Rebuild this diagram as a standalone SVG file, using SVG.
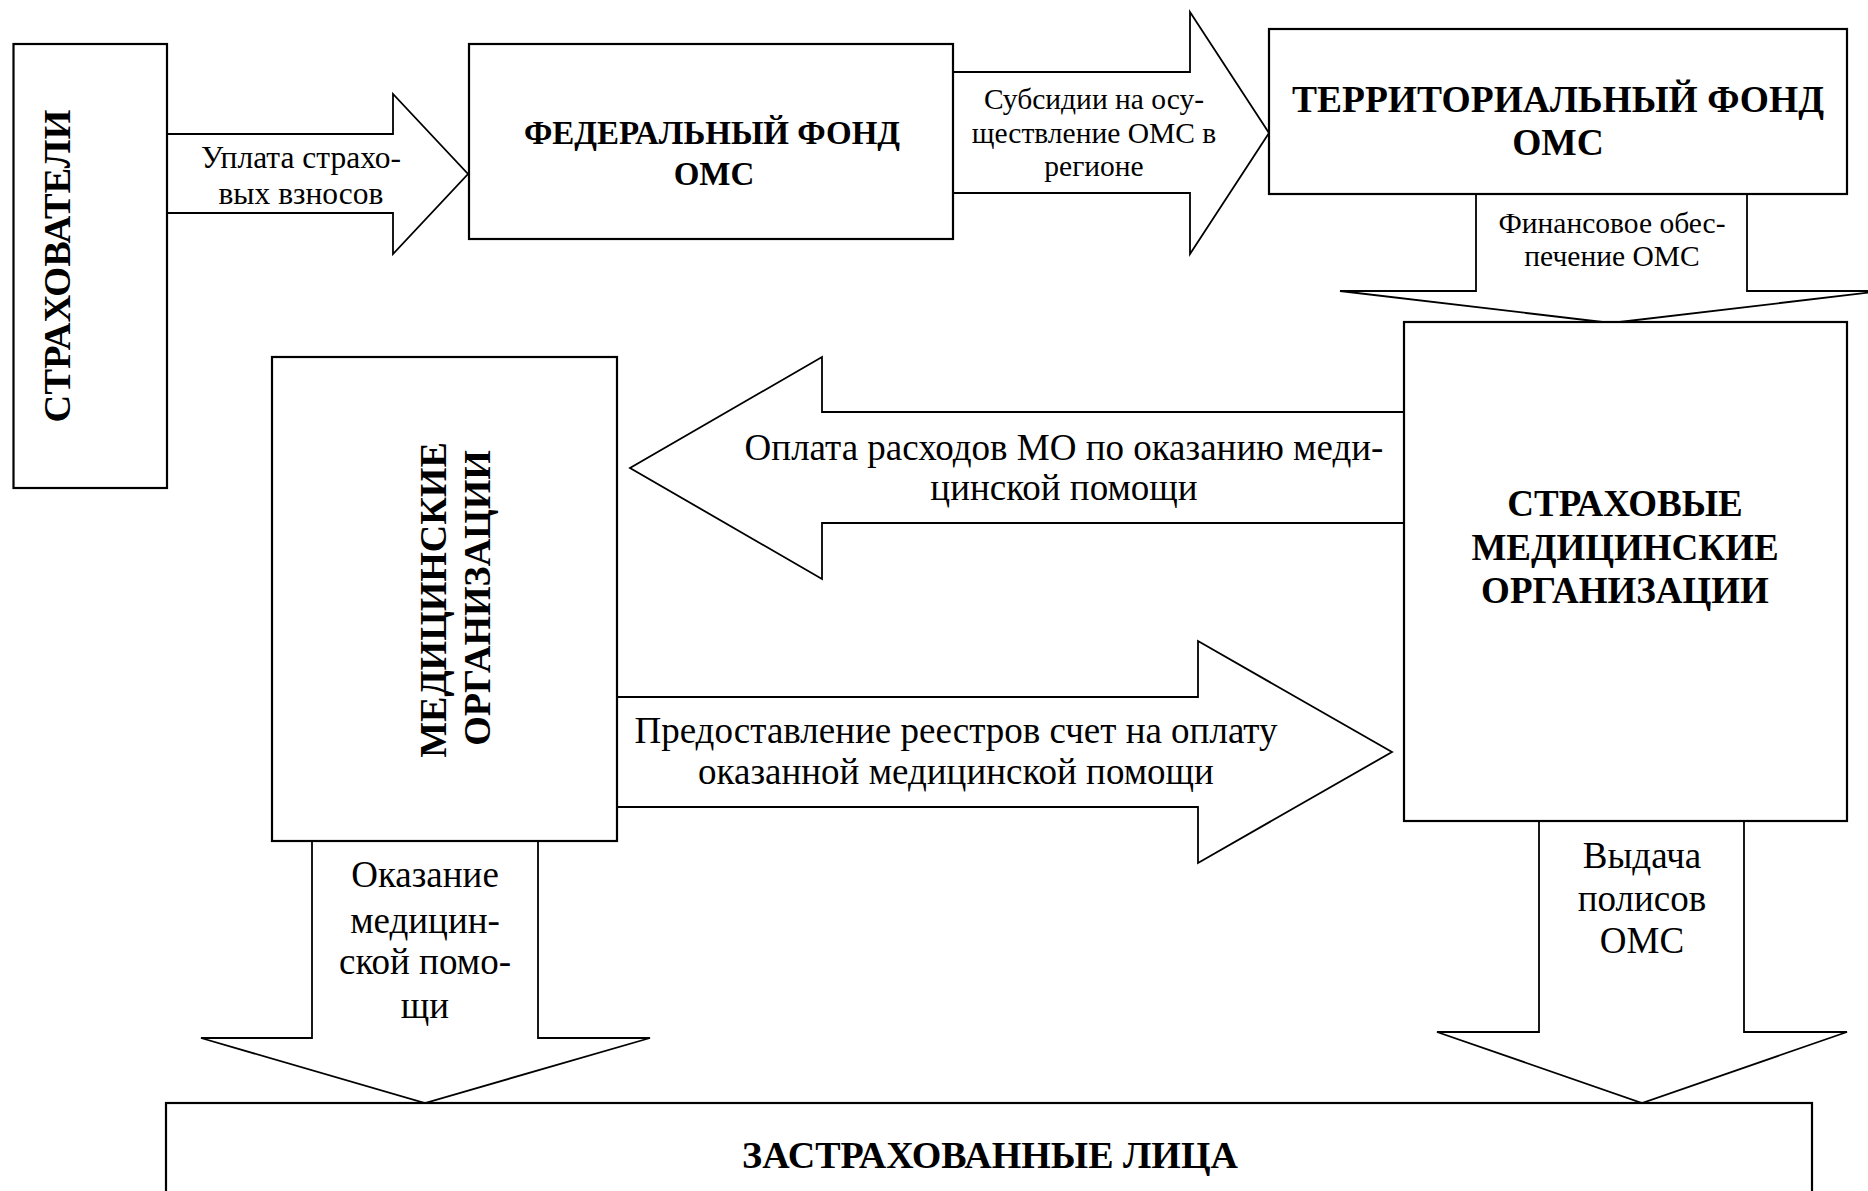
<svg xmlns="http://www.w3.org/2000/svg" width="1868" height="1191" viewBox="0 0 1868 1191">
<style>
.box{fill:#fff;stroke:#000;stroke-width:2.2}
.arr{fill:#fff;stroke:#000;stroke-width:1.8;stroke-linejoin:miter}
text{font-family:"Liberation Serif","Times New Roman",serif;fill:#000;text-anchor:middle}
.b{font-weight:bold}
.t37{font-size:37px}
.t30{font-size:30px}
</style>
<rect width="1868" height="1191" fill="#fff"/>
<g id="connectors">
  <path class="arr" d="M167,134 H393 V94 L468,174 L393,254 V213 H167"/>
  <path class="arr" d="M953,72 H1190 V12 L1269,133 L1190,254 V193 H953"/>
  <path class="arr" d="M1476,194 V291 H1340 L1611,323 L1882,291 H1747 V194"/>
  <path class="arr" d="M1404,412 H822 V357 L630,468 L822,579 V523 H1404"/>
  <path class="arr" d="M617,697 H1198 V641 L1392,752 L1198,863 V807 H617"/>
  <path class="arr" d="M312,841 V1038 H201 L425,1103 L650,1038 H538 V841"/>
  <path class="arr" d="M1539,821 V1032 H1437 L1642,1103 L1847,1032 H1744 V821"/>
  <g id="labels">
    <text style="font-size:31.5px" x="301" y="168">Уплата страхо-</text>
    <text style="font-size:31.5px" x="301" y="204">вых взносов</text>
    <text style="font-size:29.5px" x="1094" y="109">Субсидии на осу-</text>
    <text style="font-size:29.5px" x="1094" y="143">ществление ОМС в</text>
    <text style="font-size:29.5px" x="1094" y="176">регионе</text>
    <text style="font-size:29.5px" x="1612" y="233">Финансовое обес-</text>
    <text style="font-size:29.5px" x="1612" y="266">печение ОМС</text>
    <text class="t37" x="1064" y="460">Оплата расходов МО по оказанию меди-</text>
    <text class="t37" x="1064" y="500">цинской помощи</text>
    <text class="t37" x="956" y="743">Предоставление реестров счет на оплату</text>
    <text class="t37" x="956" y="784">оказанной медицинской помощи</text>
    <text class="t37" x="425" y="887">Оказание</text>
    <text class="t37" x="425" y="933">медицин-</text>
    <text class="t37" x="425" y="974">ской помо-</text>
    <text class="t37" x="425" y="1018">щи</text>
    <text class="t37" x="1642" y="868">Выдача</text>
    <text class="t37" x="1642" y="911">полисов</text>
    <text class="t37" x="1642" y="953">ОМС</text>
  </g>
</g>
<g id="strahovateli">
  <rect class="box" x="13.5" y="44" width="153.5" height="444"/>
  <text class="b" style="font-size:38.5px" transform="translate(70,266) rotate(-90)">СТРАХОВАТЕЛИ</text>
</g>
<g id="federal">
  <rect class="box" x="469" y="44" width="484" height="195"/>
  <text class="b" style="font-size:33px" x="712" y="144">ФЕДЕРАЛЬНЫЙ ФОНД</text>
  <text class="b" style="font-size:33px" x="714" y="185">ОМС</text>
</g>
<g id="territorial">
  <rect class="box" x="1269" y="29" width="578" height="165"/>
  <text class="b" style="font-size:37.5px" x="1558" y="112">ТЕРРИТОРИАЛЬНЫЙ ФОНД</text>
  <text class="b" style="font-size:37.5px" x="1558" y="155">ОМС</text>
</g>
<g id="smo">
  <rect class="box" x="1404" y="322" width="443" height="499"/>
  <text class="b t37" x="1625" y="516">СТРАХОВЫЕ</text>
  <text class="b t37" x="1625" y="560">МЕДИЦИНСКИЕ</text>
  <text class="b t37" x="1625" y="603">ОРГАНИЗАЦИИ</text>
</g>
<g id="mo">
  <rect class="box" x="272" y="357" width="345" height="484"/>
  <text class="b" style="font-size:38px" transform="translate(446,600) rotate(-90)">МЕДИЦИНСКИЕ</text>
  <text class="b" style="font-size:38px" transform="translate(490,598) rotate(-90)">ОРГАНИЗАЦИИ</text>
</g>
<g id="insured">
  <rect class="box" x="166" y="1103" width="1646" height="110"/>
  <text class="b" style="font-size:38px" x="990" y="1168">ЗАСТРАХОВАННЫЕ ЛИЦА</text>
</g>
</svg>
